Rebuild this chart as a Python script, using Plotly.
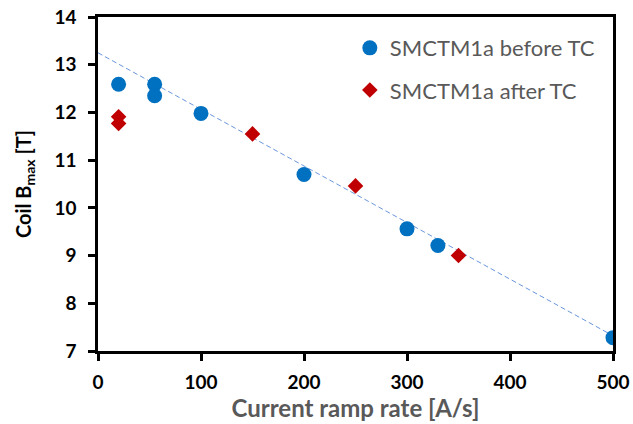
import plotly.graph_objects as go

# Data
before_x = [20, 55, 55, 100, 200, 300, 330, 500]
before_y = [12.59, 12.59, 12.35, 11.98, 10.70, 9.56, 9.21, 7.28]

after_x = [20, 20, 150, 250, 350]
after_y = [11.91, 11.77, 11.55, 10.46, 9.00]

trend_x = [0, 500]
trend_y = [13.25, 7.32]

x_ticks = [0, 100, 200, 300, 400, 500]
y_ticks = [7, 8, 9, 10, 11, 12, 13, 14]

FONT = "Lato"

fig = go.Figure()
fig.add_trace(go.Scatter(
    x=trend_x, y=trend_y, mode="lines", showlegend=False,
    line=dict(color="#6A96DC", width=1, dash="5px,3px"), hoverinfo="skip"))
fig.add_trace(go.Scatter(
    x=before_x, y=before_y, mode="markers", name="SMCTM1a before TC",
    marker=dict(symbol="circle", size=15, color="#0070C0"), legend="legend"))
fig.add_trace(go.Scatter(
    x=after_x, y=after_y, mode="markers", name="SMCTM1a after TC",
    marker=dict(symbol="diamond", size=12, color="#C00000"), legend="legend2"))

axis_common = dict(
    showgrid=False, zeroline=False, showline=True, linecolor="black",
    linewidth=2.5, mirror=True, ticks="outside", ticklen=7, tickwidth=2.5,
    tickcolor="black", automargin=False,
    tickfont=dict(family=FONT, size=19, color="black"),
)

fig.update_layout(
    width=633, height=424,
    margin=dict(l=98, r=20, t=17, b=73),
    paper_bgcolor="white", plot_bgcolor="white",
    font=dict(family=FONT),
    xaxis=dict(range=[0, 500], tickvals=x_ticks,
               ticktext=[f"<b>{v}</b>" for v in x_ticks], ticklabelstandoff=5,
               title=dict(text="<b>Current ramp rate [A/s]</b>", standoff=9,
                          font=dict(family=FONT, size=24, color="#595959")),
               **axis_common),
    yaxis=dict(range=[7, 14], tickvals=y_ticks,
               ticktext=[f"<b>{v}</b>" for v in y_ticks], ticklabelstandoff=8,
               title=dict(text="<b>Coil B<sub>max</sub> [T]</b>", standoff=18,
                          font=dict(family=FONT, size=20, color="black")),
               **axis_common),
    legend=dict(x=0.489, y=0.907, xanchor="left", yanchor="middle",
                bgcolor="rgba(0,0,0,0)", itemwidth=30,
                font=dict(family=FONT, size=22, color="#595959")),
    legend2=dict(x=0.489, y=0.781, xanchor="left", yanchor="middle",
                 bgcolor="rgba(0,0,0,0)", itemwidth=30,
                 font=dict(family=FONT, size=22, color="#595959")),
)

fig.write_html("out.html", config={"displayModeBar": False},
               post_script="document.body.style.margin='0px';")
